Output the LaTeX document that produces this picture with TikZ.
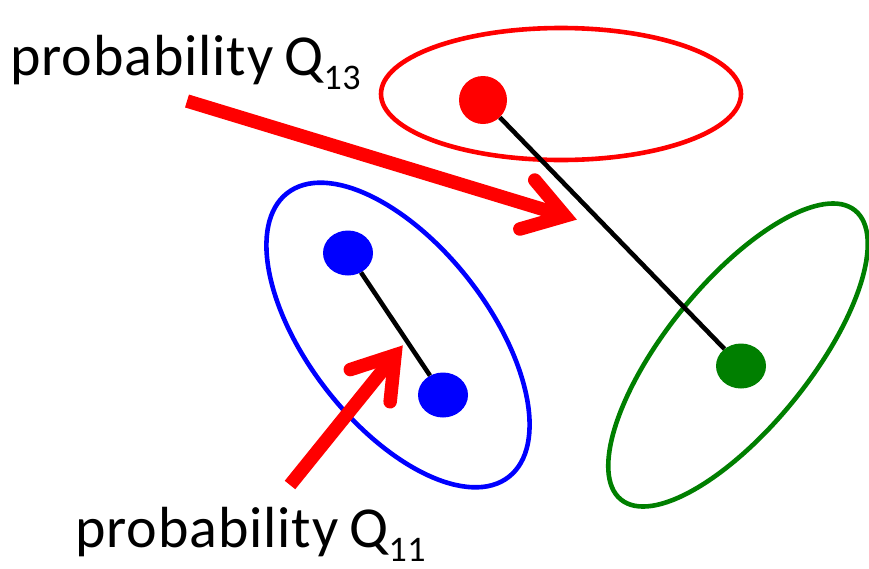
\documentclass[tikz,border=0pt]{standalone}
\usepackage{fontspec}
\setmainfont{Carlito}[LetterSpace=1.5]
\usetikzlibrary{shapes.geometric,calc}
\definecolor{ClRed}{HTML}{FF0000}
\definecolor{ClBlue}{HTML}{0000FF}
\definecolor{ClGreen}{HTML}{007F00}
\newcommand{\probQ}[1]{probability\hspace{11pt}Q\raisebox{-14pt}{\fontsize{36}{40}\selectfont #1}}

\begin{document}
\begin{tikzpicture}[x=1pt,y=-1pt]
  \tikzstyle{dot}=[ellipse,inner sep=0pt,minimum width=50pt,minimum height=45pt]
  \tikzstyle{ring}=[line width=4.6pt]
  \tikzstyle{link}=[line width=4.6pt,draw=black]
  \tikzstyle{shaft}=[line width=13.5pt,draw=ClRed,line cap=butt]
  \tikzstyle{barb}=[line width=13.5pt,draw=ClRed,line cap=round,line join=miter]
  \tikzstyle{lbl}=[anchor=base west,inner sep=0pt,font=\fontsize{58}{62}\selectfont]
  \useasboundingbox (0,0) rectangle (869,568);

  % clusters
  \draw[ring,draw=ClRed] (561,94) ellipse [x radius=180pt,y radius=66pt];
  \draw[ring,draw=ClBlue,rotate around={-52:(398,335)}] (398,335) ellipse [x radius=180pt,y radius=90pt];
  \draw[ring,draw=ClGreen,rotate around={51:(738,355)}] (738,355) ellipse [x radius=186pt,y radius=72pt];

  % centres
  \node[dot,fill=ClRed,minimum width=48pt,minimum height=48pt] (red1) at (483,100) {};
  \node[dot,fill=ClBlue] (blue1) at (348,253) {};
  \node[dot,fill=ClBlue] (blue2) at (443,395) {};
  \node[dot,fill=ClGreen] (green1) at (741,366) {};
  \draw[link] (red1) -- (green1);
  \draw[link] (blue1) -- (blue2);

  % labels
  \node[lbl] (q13) at (10,75) {\probQ{13}};
  \node[lbl] (q11) at (75,547) {\probQ{11}};

  % arrows
  \coordinate (s1) at (187,101);
  \coordinate (t1) at (565,216);
  \coordinate (s2) at (290,485);
  \coordinate (t2) at (395,355);
  \draw[shaft] (s1) -- (t1);
  \draw[barb] ($(t1)!47pt!33:(s1)$) -- (t1) -- ($(t1)!47pt!-33:(s1)$);
  \draw[shaft] (s2) -- (t2);
  \draw[barb] ($(t2)!47pt!33:(s2)$) -- (t2) -- ($(t2)!47pt!-33:(s2)$);
\end{tikzpicture}
\end{document}
